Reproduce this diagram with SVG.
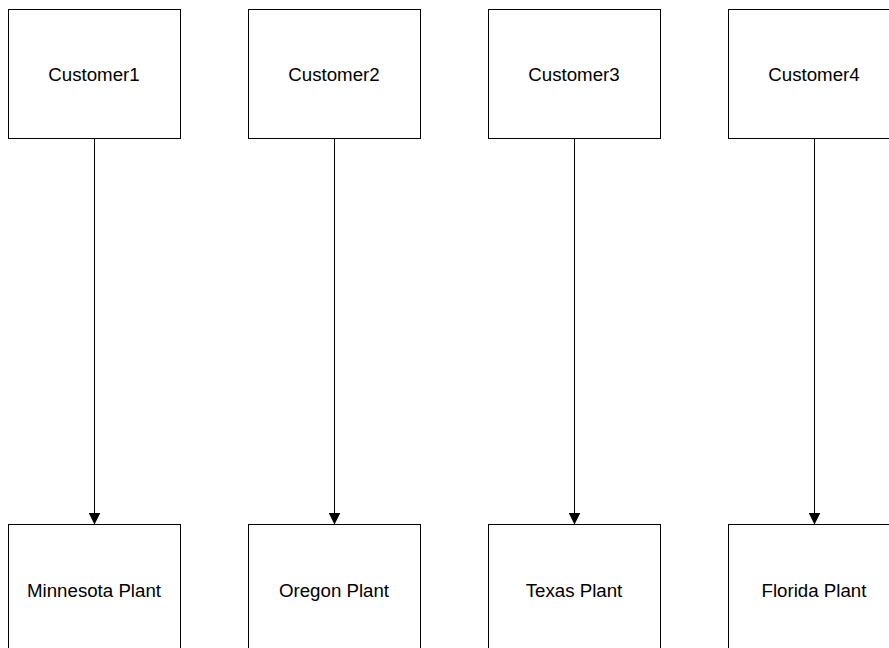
<svg xmlns="http://www.w3.org/2000/svg" width="889" height="648" viewBox="0 0 889 648">
<style>
.box{fill:#fff;stroke:#000;stroke-width:1}
.lbl{font-family:"Liberation Sans",Arial,sans-serif;font-size:18.7px;fill:#000;text-anchor:middle}
.conn{stroke:#000;stroke-width:1;fill:none}
</style>
<defs>
<marker id="ah" markerWidth="12" markerHeight="12" refX="12" refY="6" orient="auto" markerUnits="userSpaceOnUse">
<path d="M0,0 L12,6 L0,12 Z" fill="#000"/>
</marker>
</defs>
<rect width="889" height="648" fill="#fff"/>
<g id="connectors">
<line class="conn" x1="94.5" y1="138.5" x2="94.5" y2="524.5" marker-end="url(#ah)"/>
<line class="conn" x1="334.5" y1="138.5" x2="334.5" y2="524.5" marker-end="url(#ah)"/>
<line class="conn" x1="574.5" y1="138.5" x2="574.5" y2="524.5" marker-end="url(#ah)"/>
<line class="conn" x1="814.5" y1="138.5" x2="814.5" y2="524.5" marker-end="url(#ah)"/>
</g>
<g id="customer1"><rect class="box" x="8.5" y="9.5" width="172" height="129"/><text class="lbl" x="94" y="81">Customer1</text></g>
<g id="customer2"><rect class="box" x="248.5" y="9.5" width="172" height="129"/><text class="lbl" x="334" y="81">Customer2</text></g>
<g id="customer3"><rect class="box" x="488.5" y="9.5" width="172" height="129"/><text class="lbl" x="574" y="81">Customer3</text></g>
<g id="customer4"><rect class="box" x="728.5" y="9.5" width="172" height="129"/><text class="lbl" x="814" y="81">Customer4</text></g>
<g id="minnesota"><rect class="box" x="8.5" y="524.5" width="172" height="129"/><text class="lbl" x="94" y="596.5">Minnesota Plant</text></g>
<g id="oregon"><rect class="box" x="248.5" y="524.5" width="172" height="129"/><text class="lbl" x="334" y="596.5">Oregon Plant</text></g>
<g id="texas"><rect class="box" x="488.5" y="524.5" width="172" height="129"/><text class="lbl" x="574" y="596.5">Texas Plant</text></g>
<g id="florida"><rect class="box" x="728.5" y="524.5" width="172" height="129"/><text class="lbl" x="814" y="596.5">Florida Plant</text></g>
</svg>
